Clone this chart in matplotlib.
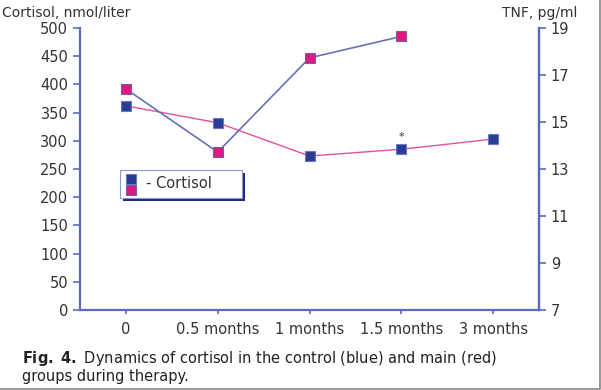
import matplotlib.pyplot as plt
from matplotlib.patches import Rectangle
from matplotlib.lines import Line2D

# data
months = ['0', '0.5 months', '1 months', '1.5 months', '3 months']
cortisol_blue = [362, 332, 273, 285, 303]      # blue markers, pink line
cortisol_red = [392, 280, 447, 485]            # pink markers, blue line
left_ticks = [0, 50, 100, 150, 200, 250, 300, 350, 400, 450, 500]
right_ticks = [7, 9, 11, 13, 15, 17, 19]

plt.rcParams['font.family'] = ['DejaVu Sans']

axis_col = '#5a6bbd'
navy = '#2b3a93'
pink = '#de1a80'
text_col = '#333333'

fig = plt.figure(figsize=(6.01, 3.9), dpi=100)
ax = fig.add_axes([80 / 601, 80 / 390, 459 / 601, 282 / 390])
ax2 = ax.twinx()

x = list(range(len(months)))

ax.plot(x, cortisol_blue, color='#e8509f', lw=1.0, zorder=2)
ax.plot(x, cortisol_blue, ls='none', marker='s', ms=7, mfc=navy,
        mec='#6a78c4', mew=0.8, zorder=3)
ax.plot(x[:len(cortisol_red)], cortisol_red, color='#6672b8', lw=1.2, zorder=2)
ax.plot(x[:len(cortisol_red)], cortisol_red, ls='none', marker='s', ms=7,
        mfc=pink, mec='#7a5aa8', mew=0.8, zorder=3)

# significance mark
ax.annotate('*', (x[3], cortisol_blue[3]), xytext=(0, 5), textcoords='offset points',
            ha='center', va='bottom', fontsize=8, color=text_col)

ax.set_xlim(-0.5, 4.5)
ax.set_ylim(0, 500)
ax.set_yticks(left_ticks)
ax.set_xticks(x)
ax.set_xticklabels(months)
ax2.set_ylim(7, 19)
ax2.set_yticks(right_ticks)

for a in (ax, ax2):
    for s in a.spines.values():
        s.set_color(axis_col)
        s.set_linewidth(1.6)
    a.spines['top'].set_visible(False)
    a.tick_params(colors=axis_col, labelcolor=text_col, labelsize=10.5,
                  length=5, width=1.2)
ax.tick_params(axis='x', length=3, pad=6)
ax2.spines['left'].set_visible(False)
ax2.spines['bottom'].set_visible(False)

fig.text(2 / 601, 1 - 13 / 390, 'Cortisol, nmol/liter', fontsize=10,
         color=text_col, va='center', ha='left')
fig.text(577 / 601, 1 - 13 / 390, 'TNF, pg/ml', fontsize=10,
         color=text_col, va='center', ha='right')

# legend box with shadow
W, H = 601, 390
fig.patches.append(Rectangle((123 / W, 1 - 201 / H), 122 / W, 28 / H,
                             transform=fig.transFigure, fc='#1a2a80', ec='none'))
fig.patches.append(Rectangle((120 / W, 1 - 198 / H), 122 / W, 28 / H,
                             transform=fig.transFigure, fc='white',
                             ec='#8f98cc', lw=0.8))
fig.lines.append(Line2D([131 / W], [1 - 179 / H], transform=fig.transFigure,
                        marker='s', ms=7, mfc=navy, mec='#6a78c4', mew=0.8))
fig.lines.append(Line2D([131 / W], [1 - 190 / H], transform=fig.transFigure,
                        marker='s', ms=7, mfc=pink, mec='#7a5aa8', mew=0.8))
fig.text(146 / W, 1 - 183 / H, '- Cortisol', fontsize=10.5, color=text_col,
         va='center', ha='left')

# caption
fig.text(22 / W, 1 - 358 / H, r'$\bf{Fig.\ 4.}$ Dynamics of cortisol in the control (blue) and main (red)',
         fontsize=10.5, color='#222222', va='center', ha='left')
fig.text(22 / W, 1 - 376 / H, 'groups during therapy.',
         fontsize=10.5, color='#222222', va='center', ha='left')

# page border
fig.lines.append(Line2D([0, 600 / W, 600 / W], [1 - 389 / H, 1 - 389 / H, 1],
                        transform=fig.transFigure, color='#888888', lw=1.2))

fig.savefig('out.png', dpi=100)
